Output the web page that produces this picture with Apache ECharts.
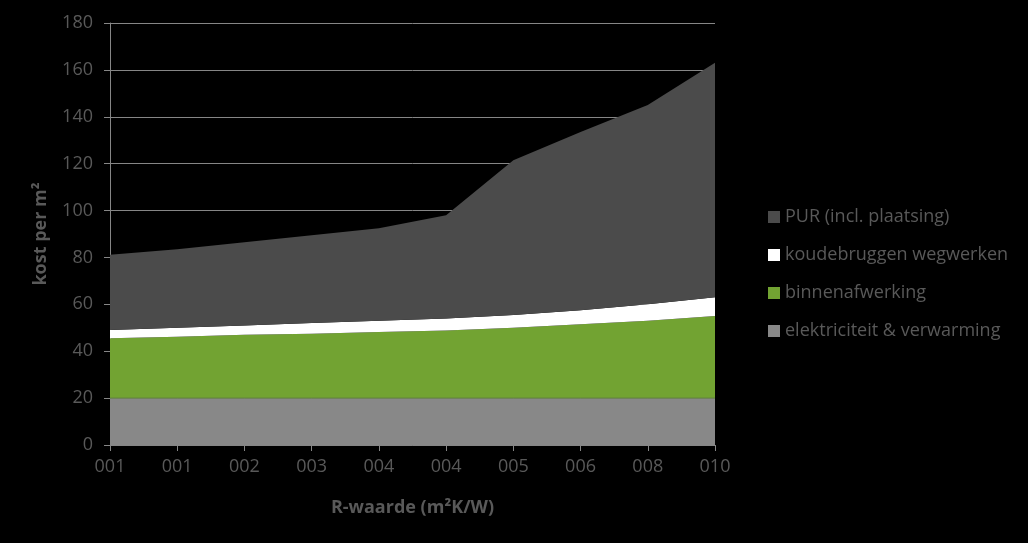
<!DOCTYPE html>
<html>
<head>
<meta charset="utf-8">
<script src="https://cdn.jsdelivr.net/npm/echarts@6/dist/echarts.min.js"></script>
<style>
html,body{margin:0;padding:0;background:#000;}
#chart{width:1028px;height:543px;}
</style>
</head>
<body>
<div id="chart"></div>
<script>
var categories = ['001','001','002','003','004','004','005','006','008','010'];
var elektriciteit = [20,20,20,20,20,20,20,20,20,20];
var binnenafwerking = [25.5,26.2,27,27.5,28.2,28.8,30,31.5,33,35];
var koudebruggen = [3.6,3.8,4,4.5,4.8,5.2,5.5,6,7,8];
var pur = [32,33.5,35.5,37.5,39.5,44,66,76,85,100];
var yTicks = {min:0, max:180, interval:20};

var txt = '#595959';
var font = 'Open Sans';
function area(name, data, color, line){
  return {name:name, type:'line', stack:'total', data:data, symbol:'none',
    lineStyle: line ? {width:1, color:line} : {width:0},
    areaStyle:{color:color, opacity:1}, itemStyle:{color:color},
    emphasis:{disabled:true}, silent:true};
}
var chart = echarts.init(document.getElementById('chart'));
chart.setOption({
  backgroundColor:'#000',
  animation:false,
  grid:{left:110, right:313, top:23, bottom:98},
  legend:{
    orient:'vertical', left:763, top:203, itemGap:20, itemWidth:12, itemHeight:12,
    icon:'rect', selectedMode:false,
    textStyle:{color:txt, fontSize:18, fontFamily:font, lineHeight:18},
    data:['PUR (incl. plaatsing)','koudebruggen wegwerken','binnenafwerking','elektriciteit & verwarming']
  },
  xAxis:{
    type:'category', data:categories, boundaryGap:false,
    name:'R-waarde (m²K/W)', nameLocation:'middle', nameGap:54,
    nameTextStyle:{color:txt, fontSize:18, fontWeight:'bold', fontFamily:font},
    axisLine:{show:true, lineStyle:{color:'#868686'}},
    axisTick:{show:true, alignWithLabel:true, length:6, lineStyle:{color:'#868686'}},
    axisLabel:{color:txt, fontSize:18, fontFamily:font, margin:13, interval:0},
    splitLine:{show:false}
  },
  yAxis:{
    type:'value', min:yTicks.min, max:yTicks.max, interval:yTicks.interval,
    name:'kost per m²', nameLocation:'middle', nameGap:60, nameRotate:90,
    nameTextStyle:{color:txt, fontSize:18, fontWeight:'bold', fontFamily:font},
    axisLine:{show:true, lineStyle:{color:'#868686'}},
    axisTick:{show:true, length:6, lineStyle:{color:'#868686'}},
    axisLabel:{color:txt, fontSize:18, fontFamily:font, margin:17},
    splitLine:{show:true, lineStyle:{color:'#868686', width:1}}
  },
  series:[
    area('elektriciteit & verwarming', elektriciteit, '#888888', '#5f7f3f'),
    area('binnenafwerking', binnenafwerking, '#72a332'),
    area('koudebruggen wegwerken', koudebruggen, '#ffffff'),
    area('PUR (incl. plaatsing)', pur, '#4b4b4b')
  ]
});
</script>
</body>
</html>
